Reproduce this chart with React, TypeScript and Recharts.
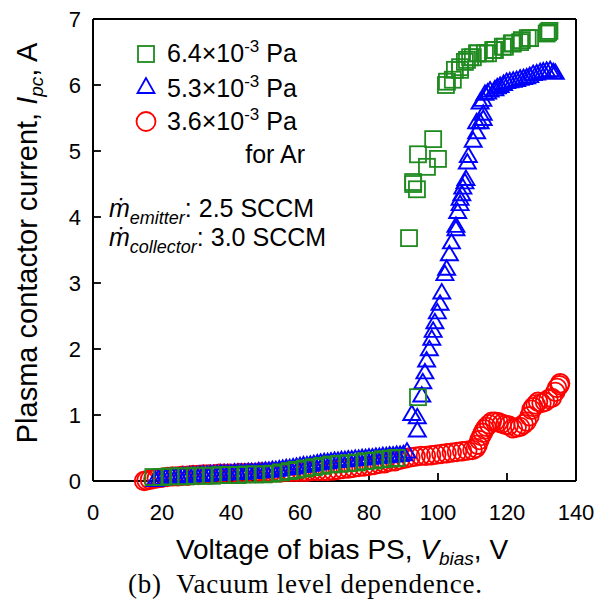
import React from 'react'
import { ScatterChart, Scatter, XAxis, YAxis, ReferenceLine } from 'recharts'

// bias voltage [V], contactor current [A]
const greenLow: [number, number][] = [
  [17.5, 0.06], [20, 0.06], [22.5, 0.07], [25, 0.07], [27, 0.07], [29.5, 0.08], [32, 0.08],
  [34.5, 0.08], [37, 0.09], [39.5, 0.09], [42, 0.09], [44.5, 0.1], [47, 0.1], [49.5, 0.1],
  [52, 0.11], [54.5, 0.13], [57, 0.15], [59, 0.17], [61.5, 0.19], [64, 0.21], [66.5, 0.23],
  [69, 0.25], [71.5, 0.26], [74, 0.27], [76.5, 0.28], [79, 0.3], [81.5, 0.31], [84, 0.33],
  [86.5, 0.34], [88, 0.35],
]
const greenHigh: [number, number][] = [
  [91.6, 3.68], [92.8, 4.53], [92.8, 4.5], [93.9, 4.42], [94.2, 4.95], [96.8, 4.76], [98.6, 5.18],
  [100, 4.88], [94.2, 1.27], [102.3, 6.0], [102.6, 6.05], [104.3, 6.08], [104.9, 6.23], [106.4, 6.23],
  [106.4, 6.27], [107.8, 6.35], [108.4, 6.38], [109.3, 6.42], [110.1, 6.42], [111.3, 6.48],
  [111.6, 6.48], [113.6, 6.48], [114.5, 6.48], [116, 6.53], [116.5, 6.53], [118.8, 6.58],
  [119.4, 6.58], [121.4, 6.63], [121.7, 6.63], [123.8, 6.65], [124.3, 6.68], [126, 6.71],
  [126.7, 6.71], [131.5, 6.78], [131.9, 6.8], [132.3, 6.82],
]
const blueLow: [number, number][] = [
  [18, 0.0], [19, 0.02], [20, 0.02], [21, 0.03], [22, 0.04], [23, 0.04], [24, 0.05], [25, 0.05],
  [26, 0.06], [27, 0.06], [28, 0.07], [29, 0.07], [30, 0.07], [31, 0.08], [32, 0.08], [33, 0.08],
  [34, 0.09], [35, 0.09], [36, 0.09], [37, 0.1], [38, 0.1], [39, 0.1], [40, 0.1], [41, 0.11],
  [42, 0.11], [43, 0.11], [44, 0.11], [45, 0.12], [46, 0.12], [47, 0.12], [48, 0.13], [49, 0.13],
  [50, 0.14], [51, 0.14], [52, 0.15], [53, 0.15], [54, 0.16], [55, 0.17], [56, 0.18], [57, 0.18],
  [58, 0.19], [59, 0.2], [60, 0.21], [61, 0.22], [62, 0.22], [63, 0.23], [64, 0.24], [65, 0.25],
  [66, 0.26], [67, 0.27], [68, 0.27], [69, 0.28], [70, 0.29], [71, 0.29], [72, 0.3], [73, 0.3],
  [74, 0.31], [75, 0.31], [76, 0.32], [77, 0.32], [78, 0.33], [79, 0.33], [80, 0.34], [81, 0.34],
  [82, 0.35], [83, 0.35], [84, 0.36], [85, 0.36], [86, 0.37], [87, 0.37], [88, 0.38], [89, 0.38],
  [90, 0.39], [91, 0.43],
]
const blueRise: [number, number][] = [
  [92.4, 1.0], [94.0, 0.75], [94.0, 0.95], [95.3, 1.28], [95.6, 1.48], [96.2, 1.63], [96.7, 1.81],
  [97.5, 1.98], [98.2, 2.14], [98.6, 2.26], [99.1, 2.39], [99.8, 2.54], [100.6, 2.67], [101.1, 2.84],
  [102.0, 3.12], [102.5, 3.2], [103.3, 3.42], [103.9, 3.6], [105.2, 3.8], [105.2, 3.85], [105.7, 4.06],
  [106.4, 4.18], [106.4, 4.26], [106.9, 4.33], [107.2, 4.43], [107.8, 4.51], [108.1, 4.56],
  [108.5, 4.81], [108.8, 4.91], [110.2, 5.14], [111.2, 5.27], [111.2, 5.42], [112.2, 5.42],
  [113.1, 5.47], [113.1, 5.55], [112.2, 5.72], [113.0, 5.76], [113.6, 5.85], [114.4, 5.87],
  [115.1, 5.9], [116.5, 5.92], [117.2, 5.95], [118.0, 5.97], [119.0, 6.0], [119.9, 6.03],
  [120.8, 6.04], [121.8, 6.05], [122.8, 6.06], [123.8, 6.08], [124.8, 6.09], [125.7, 6.1],
  [126.6, 6.12], [127.6, 6.15], [128.6, 6.16], [129.6, 6.18], [130.5, 6.19], [131.5, 6.2],
  [132.5, 6.21], [133.4, 6.18], [134.0, 6.17],
]
const redLow: [number, number][] = [
  [14.8, 0.0], [15.5, 0.01], [16.5, 0.02], [17.5, 0.03], [18.5, 0.04], [20, 0.05], [21.5, 0.06],
  [23, 0.07], [24.5, 0.07], [26, 0.08], [27.5, 0.08], [29, 0.09], [30.5, 0.09], [32, 0.1],
  [33.5, 0.1], [35, 0.1], [36.5, 0.11], [38, 0.11], [39.5, 0.11], [41, 0.11], [42.5, 0.12],
  [44, 0.12], [45.5, 0.12], [47, 0.12], [48.5, 0.13], [50, 0.13], [51.5, 0.13], [53, 0.13],
  [54.5, 0.13], [56, 0.14], [57.5, 0.14], [59, 0.14], [60.5, 0.14], [62, 0.14], [63.5, 0.15],
  [65, 0.15], [66.5, 0.15], [68, 0.15], [69.5, 0.16], [71, 0.17], [72.5, 0.18], [74, 0.19],
  [75.5, 0.2], [77, 0.21], [78.5, 0.22], [80, 0.23], [81.5, 0.24], [83, 0.26], [84.5, 0.27],
  [86, 0.29], [87.5, 0.3], [89, 0.32], [90.5, 0.34], [92, 0.36], [93.5, 0.37], [95, 0.38],
  [96.5, 0.38], [98, 0.39], [99.5, 0.4], [101, 0.41], [102.5, 0.42], [104, 0.43], [105.5, 0.44],
  [107, 0.45], [108.5, 0.46], [110, 0.47], [111, 0.5],
]
const redHigh: [number, number][] = [
  [111.5, 0.55], [112, 0.62], [112.5, 0.68], [113, 0.73], [113.5, 0.78], [114, 0.82], [114.8, 0.86],
  [115.6, 0.9], [116.5, 0.9], [117.5, 0.89], [118.5, 0.87], [119.5, 0.85], [120.5, 0.84],
  [121.7, 0.8], [122.8, 0.81], [123.8, 0.82], [124.8, 0.86], [125.7, 0.9], [126.5, 0.98],
  [127.1, 1.08], [127.6, 1.12], [128.3, 1.16], [129, 1.2], [130, 1.18], [131, 1.2], [132, 1.24],
  [133, 1.26], [134, 1.35], [134.5, 1.41], [135.4, 1.48], [135.2, 1.45],
]

const xTicks = [0, 20, 40, 60, 80, 100, 120, 140]
const yTicks = [0, 1, 2, 3, 4, 5, 6, 7]
// inward tick marks, drawn in data units (about 8 px)
const X_TICK_LEN = 0.12
const Y_TICK_LEN = 2.3

const GREEN = '#1f8a1f'
const BLUE = '#0000ff'
const RED = '#ff0000'

const toRows = (pts: [number, number][]) => pts.map(([v, i]) => ({ v, i }))

const squareShape = (p: any) => (
  <rect x={p.cx - 8} y={p.cy - 8} width={16} height={16} fill="none" stroke={GREEN} strokeWidth={1.8} />
)
const triangleShape = (p: any) => (
  <polygon
    points={`${p.cx},${p.cy - 9.5} ${p.cx - 8.5},${p.cy + 5} ${p.cx + 8.5},${p.cy + 5}`}
    fill="none"
    stroke={BLUE}
    strokeWidth={1.9}
  />
)
const circleShape = (p: any) => (
  <circle cx={p.cx} cy={p.cy} r={9.3} fill="none" stroke={RED} strokeWidth={1.8} />
)

const sans = '"Liberation Sans", Arial, sans-serif'

export default function App() {
  return (
    <div style={{ position: 'absolute', left: 0, top: 0, width: 605, height: 606, background: '#fff' }}>
      <ScatterChart width={605} height={606} margin={{ top: 19, right: 29, bottom: 95, left: 53 }}>
        <XAxis
          type="number"
          dataKey="v"
          domain={[0, 140]}
          ticks={xTicks}
          height={30}
          tickSize={0}
          tickMargin={23}
          axisLine={{ stroke: '#000', strokeWidth: 2 }}
          tickLine={false}
          tick={{ fill: '#000', fontSize: 22, fontFamily: sans }}
          interval={0}
        />
        <YAxis
          type="number"
          dataKey="i"
          domain={[0, 7]}
          ticks={yTicks}
          width={40}
          tickSize={0}
          tickMargin={12}
          axisLine={{ stroke: '#000', strokeWidth: 2 }}
          tickLine={false}
          tick={{ fill: '#000', fontSize: 22, fontFamily: sans }}
          interval={0}
        />
        <ReferenceLine y={7} stroke="#000" strokeWidth={2} />
        <ReferenceLine x={140} stroke="#000" strokeWidth={2} />
        {xTicks.slice(1, -1).map((t) => (
          <ReferenceLine key={`xt${t}`} segment={[{ x: t, y: 0 }, { x: t, y: X_TICK_LEN }]} stroke="#000" strokeWidth={1.8} />
        ))}
        {yTicks.slice(1, -1).map((t) => (
          <ReferenceLine key={`yt${t}`} segment={[{ x: 0, y: t }, { x: Y_TICK_LEN, y: t }]} stroke="#000" strokeWidth={1.8} />
        ))}
        <Scatter data={toRows(redLow)} shape={circleShape} isAnimationActive={false} />
        <Scatter data={toRows(redHigh)} shape={circleShape} isAnimationActive={false} />
        <Scatter data={toRows(blueLow)} shape={triangleShape} isAnimationActive={false} />
        <Scatter data={toRows(blueRise)} shape={triangleShape} isAnimationActive={false} />
        <Scatter data={toRows(greenLow)} shape={squareShape} isAnimationActive={false} />
        <Scatter data={toRows(greenHigh)} shape={squareShape} isAnimationActive={false} />
      </ScatterChart>

      <svg width={605} height={606} style={{ position: 'absolute', left: 0, top: 0, pointerEvents: 'none' }}>
        <g fontFamily={sans} fill="#000">
          {/* legend */}
          <rect x={138} y={46} width={16} height={16} fill="none" stroke={GREEN} strokeWidth={1.8} />
          <polygon points="146,78 137.5,93 154.5,93" fill="none" stroke={BLUE} strokeWidth={1.8} />
          <circle cx={146} cy={121.5} r={9.5} fill="none" stroke={RED} strokeWidth={1.8} />
          <text x={167} y={62} fontSize={25}>
            6.4×10<tspan dy={-10} fontSize={17}>-3</tspan><tspan dy={10}> Pa</tspan>
          </text>
          <text x={167} y={97} fontSize={25}>
            5.3×10<tspan dy={-10} fontSize={17}>-3</tspan><tspan dy={10}> Pa</tspan>
          </text>
          <text x={167} y={130} fontSize={25}>
            3.6×10<tspan dy={-10} fontSize={17}>-3</tspan><tspan dy={10}> Pa</tspan>
          </text>
          <text x={305} y={163} fontSize={25} textAnchor="end">for Ar</text>

          <text x={109} y={217} fontSize={25}>
            <tspan fontStyle="italic">ṁ</tspan>
            <tspan dy={7} fontSize={18} fontStyle="italic">emitter</tspan>
            <tspan dy={-7}>: 2.5 SCCM</tspan>
          </text>
          <text x={109} y={246} fontSize={25}>
            <tspan fontStyle="italic">ṁ</tspan>
            <tspan dy={7} fontSize={18} fontStyle="italic">collector</tspan>
            <tspan dy={-7}>: 3.0 SCCM</tspan>
          </text>

          {/* axis titles */}
          <text transform="translate(37,243) rotate(-90)" fontSize={29} textAnchor="middle">
            Plasma contactor current, <tspan fontStyle="italic">I</tspan>
            <tspan dy={6} fontSize={19} fontStyle="italic">pc</tspan>
            <tspan dy={-6}>, A</tspan>
          </text>
          <text x={342} y={559} fontSize={28} textAnchor="middle">
            Voltage of bias PS, <tspan fontStyle="italic">V</tspan>
            <tspan dy={6} fontSize={19} fontStyle="italic">bias</tspan>
            <tspan dy={-6}>, V</tspan>
          </text>
        </g>
        <text
          x={128}
          y={593}
          fontSize={27}
          textLength={354}
          lengthAdjust="spacing"
          fontFamily='"Liberation Serif", "Times New Roman", serif'
          fill="#000"
          style={{ whiteSpace: 'pre' }}
        >
          (b)  Vacuum level dependence.
        </text>
      </svg>
    </div>
  )
}
